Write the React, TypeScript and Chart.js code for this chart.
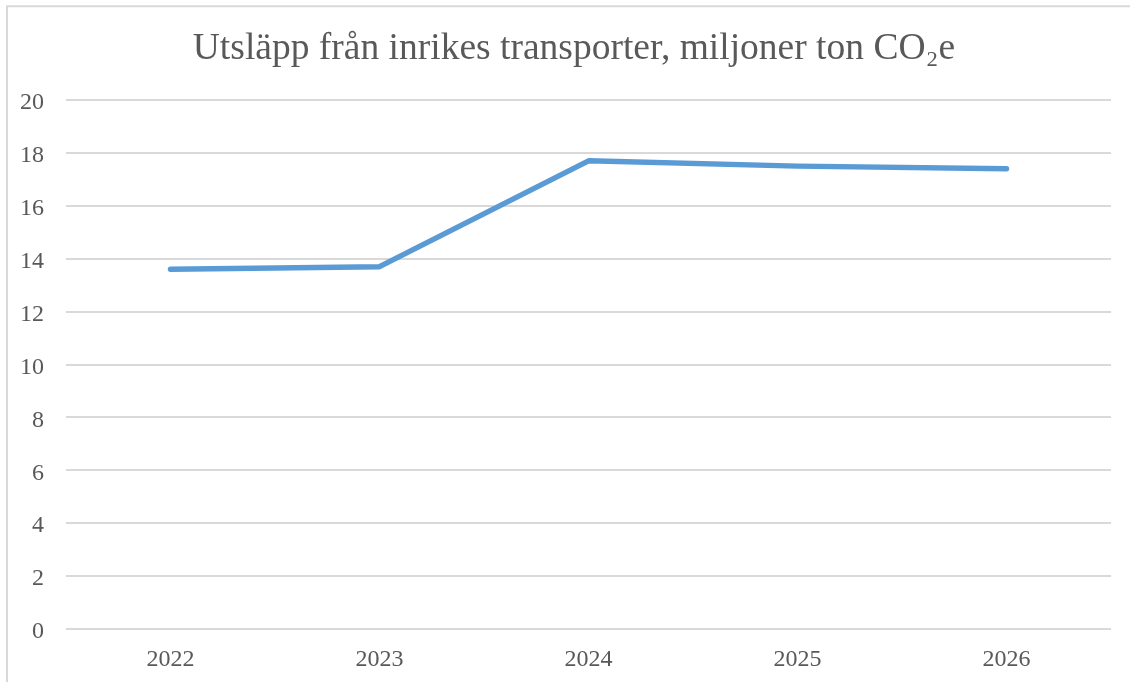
import React, { useEffect, useRef } from "react";
import { Chart, registerables } from "chart.js";

Chart.register(...registerables);

const categories = ["2022", "2023", "2024", "2025", "2026"];
const emissions = [13.6, 13.7, 17.7, 17.5, 17.4];
const titleText = "Utsläpp från inrikes transporter, miljoner ton CO₂e";
const yMin = 0;
const yMax = 20;
const yStep = 2;

const TEXT = "#595959";
const GRID = "#d9d9d9";
const LINE = "#5b9bd5";
const FONT = "'Liberation Serif', 'Times New Roman', serif";

const borderPlugin = {
  id: "outerBorder",
  afterLayout(chart: any) {
    if (chart.titleBlock) {
      chart.titleBlock.left += 37;
    }
  },
  afterDraw(chart: any) {
    const ctx = chart.ctx;
    ctx.save();
    ctx.strokeStyle = GRID;
    ctx.lineWidth = 2;
    ctx.beginPath();
    ctx.moveTo(7, 2000);
    ctx.lineTo(7, 6.3);
    ctx.lineTo(2000, 6.3);
    ctx.stroke();
    ctx.restore();
  },
};

export default function App() {
  const ref = useRef<HTMLCanvasElement | null>(null);
  useEffect(() => {
    if (!ref.current) return;
    const chart = new Chart(ref.current, {
      type: "line",
      data: {
        labels: categories,
        datasets: [
          {
            data: emissions,
            borderColor: LINE,
            backgroundColor: LINE,
            borderWidth: 5.5,
            pointRadius: 0,
            tension: 0,
            borderCapStyle: "round",
            borderJoinStyle: "round",
          },
        ],
      },
      options: {
        responsive: false,
        animation: false,
        layout: { padding: { left: 0, right: 19, top: 0, bottom: 8 } },
        plugins: {
          legend: { display: false },
          tooltip: { enabled: false },
          title: {
            display: true,
            text: titleText,
            color: TEXT,
            font: { family: FONT, size: 37.5, weight: "normal" },
            padding: { top: 27, bottom: 28 },
          },
        },
        scales: {
          x: {
            offset: true,
            grid: { display: false, drawTicks: false },
            border: { display: false },
            ticks: {
              color: TEXT,
              font: { family: FONT, size: 24 },
              padding: 16,
              maxRotation: 0,
            },
            afterFit(scale: any) {
              scale.height = 45;
            },
          },
          y: {
            min: yMin,
            max: yMax,
            grid: { color: GRID, lineWidth: 2, drawTicks: false },
            border: { display: false },
            ticks: {
              stepSize: yStep,
              color: TEXT,
              font: { family: FONT, size: 24 },
              padding: 22,
              labelOffset: 3,
            },
            afterFit(scale: any) {
              scale.width = 66;
            },
          },
        },
      },
      plugins: [borderPlugin],
    } as any);
    return () => chart.destroy();
  }, []);
  return (
    <div style={{ position: "absolute", left: 0, top: 0, width: 1130, height: 682, background: "#fff" }}>
      <canvas ref={ref} width={1130} height={682} />
    </div>
  );
}
